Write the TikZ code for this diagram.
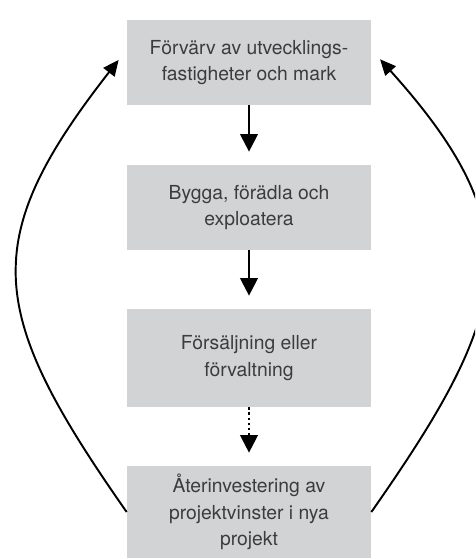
\documentclass[tikz,border=0pt]{standalone}
\usepackage{fontspec}
\setmainfont{TeX Gyre Heros}
\usepackage{tikz}
\usetikzlibrary{arrows.meta, positioning, calc}
\definecolor{boxgray}{HTML}{D1D3D4}
\definecolor{textgray}{HTML}{3C3C3E}

\begin{document}
\begin{tikzpicture}[
    box/.style={fill=boxgray, text=textgray, minimum width=4.88cm, inner sep=0pt,
        align=center, font=\fontsize{11}{15.2}\selectfont},
    down/.style={-{Triangle[length=10pt,width=10pt]}, line width=1.3pt, shorten >=0.26cm},
    back/.style={-{Triangle[length=9pt,width=8pt]}, line width=1.1pt, shorten >=0.26cm}
  ]
    \useasboundingbox (0,0) rectangle (9.5,-11.18);
    \clip (0,0) rectangle (9.5,-11.18);
    \node (forvarv) at (4.98,-1.25) [box, minimum height=1.7cm] {Förvärv av utvecklings-\\fastigheter och mark};
    \node (bygga) at (4.98,-4.15) [box, minimum height=1.7cm] {Bygga, förädla och\\exploatera};
    \node (forsalj) at (4.98,-7.16) [box, minimum height=1.96cm] {Försäljning eller\\förvaltning};
    \node (ater) at (4.98,-10.24) [box, minimum height=1.84cm] {Återinvestering av\\projektvinster i nya\\projekt};
    \draw[down] (forvarv) -- (bygga);
    \draw[down] (bygga) -- (forsalj);
    \draw[down, dash pattern=on 1.3pt off 1.6pt] (forsalj) -- (ater);
    \draw[back] (ater.west) to[out=125, in=232, looseness=1.35] (forvarv.174);
    \draw[back] (ater.east) to[out=55, in=-48, looseness=1.35] (forvarv.6);
\end{tikzpicture}
\end{document}
